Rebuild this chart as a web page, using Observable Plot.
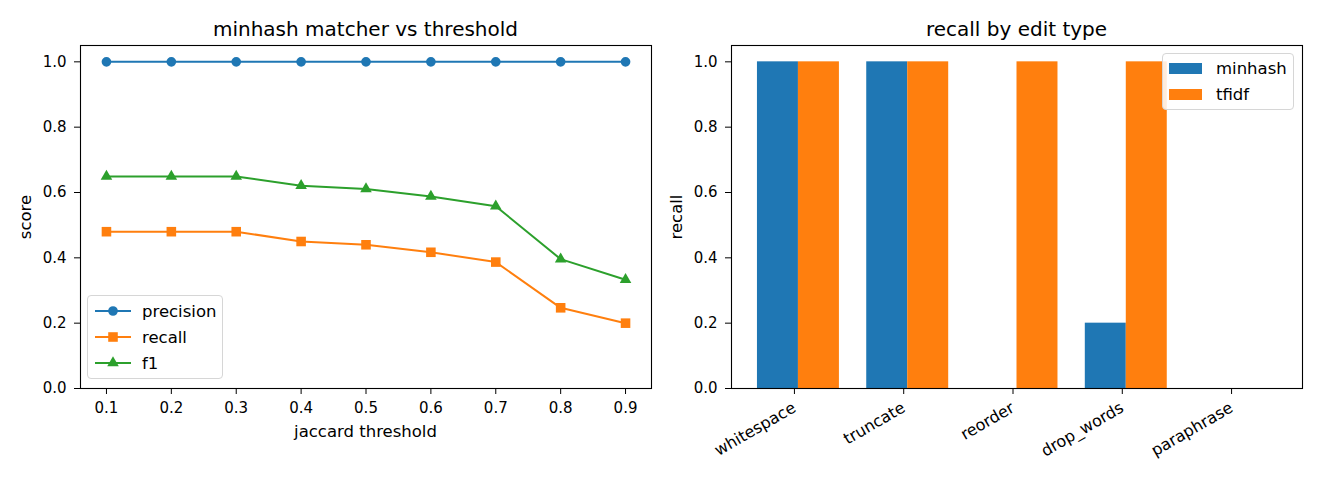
<!DOCTYPE html>
<html>
<head>
<meta charset="utf-8">
<script src="https://cdn.jsdelivr.net/npm/d3@7"></script>
<script src="https://cdn.jsdelivr.net/npm/@observablehq/plot@0.6"></script>
<style>
  body { margin: 0; background: white; }
  #wrap { position: relative; width: 1320px; height: 480px; overflow: hidden; font-family: "DejaVu Sans", sans-serif; color: black; }
  .lab { position: absolute; white-space: nowrap; line-height: 20px; font-size: 16.5px; }
  .title { font-size: 20px; line-height: 24px; }
  .legend { position: absolute; border: 1px solid #d6d6d6; border-radius: 4px; background: rgba(255,255,255,0.85); box-sizing: border-box; font-size: 16.5px; }
  .legrow { position: absolute; display: flex; align-items: center; }
</style>
</head>
<body>
<div id="wrap"></div>
<script>
// ---- data ----
const thresholds = [0.1, 0.2, 0.3, 0.4, 0.5, 0.6, 0.7, 0.8, 0.9];
const precision = [1, 1, 1, 1, 1, 1, 1, 1, 1];
const recall = [0.48, 0.48, 0.48, 0.45, 0.44, 0.417, 0.387, 0.247, 0.2];
const f1 = [0.649, 0.649, 0.649, 0.621, 0.611, 0.588, 0.558, 0.396, 0.333];
const seriesNames = ["precision", "recall", "f1"];
const seriesColors = ["#1f77b4", "#ff7f0e", "#2ca02c"];
const seriesSymbols = ["circle", "square", "triangle"];
const scoreTicks = [0, 0.2, 0.4, 0.6, 0.8, 1.0];

const editTypes = ["whitespace", "truncate", "reorder", "drop_words", "paraphrase"];
const minhashRecall = [1, 1, 0, 0.2, 0];
const tfidfRecall = [1, 1, 1, 1, 0];
const methods = ["minhash", "tfidf"];
const methodColors = ["#1f77b4", "#ff7f0e"];

const wrap = document.getElementById("wrap");
const FONT = "DejaVu Sans";
const TICKFS = "15px";

// ---- left chart ----
const seriesValues = [precision, recall, f1];
const lineRows = [];
seriesNames.forEach((name, s) => thresholds.forEach((t, i) => lineRows.push({series: name, t, v: seriesValues[s][i]})));
const symbolR = {circle: 4.85, square: 5.4, triangle: 4.3};

const left = Plot.plot({
  width: 660, height: 480,
  marginLeft: 80, marginRight: 9, marginTop: 45, marginBottom: 92,
  style: {fontFamily: FONT, fontSize: TICKFS, background: "transparent", overflow: "visible"},
  x: {domain: [0.06, 0.94]},
  y: {domain: [0, 1.05]},
  color: {domain: seriesNames, range: seriesColors},
  symbol: {domain: seriesNames, range: seriesSymbols},
  marks: [
    Plot.axisX({ticks: thresholds, tickFormat: d => d.toFixed(1), tickSize: 6, tickPadding: 8, label: null, fontSize: TICKFS}),
    Plot.axisY({ticks: scoreTicks, tickFormat: d => d.toFixed(1), tickSize: 6, tickPadding: 8, label: null, fontSize: TICKFS}),
    ...seriesNames.map(name => Plot.line(lineRows.filter(d => d.series === name),
      {x: "t", y: "v", stroke: "series", strokeWidth: 2})),
    ...seriesNames.map((name, s) => Plot.dot(lineRows.filter(d => d.series === name),
      {x: "t", y: "v", fill: "series", symbol: "series", r: symbolR[seriesSymbols[s]], stroke: "none"})),
    Plot.frame({stroke: "black", strokeWidth: 1.1})
  ]
});
left.style.position = "absolute"; left.style.left = "0px"; left.style.top = "0px";
wrap.appendChild(left);

// ---- right chart ----
const barW = 0.375;
const barRows = [];
editTypes.forEach((e, i) => {
  barRows.push({i, type: e, method: "minhash", v: minhashRecall[i]});
  barRows.push({i, type: e, method: "tfidf", v: tfidfRecall[i]});
});
const right = Plot.plot({
  width: 660, height: 480,
  marginLeft: 71, marginRight: 18, marginTop: 45, marginBottom: 92,
  style: {fontFamily: FONT, fontSize: TICKFS, background: "transparent", overflow: "visible"},
  x: {domain: [-0.6125, 4.6125]},
  y: {domain: [0, 1.05]},
  color: {domain: methods, range: methodColors},
  marks: [
    Plot.rectY(barRows, {
      x1: d => d.method === "minhash" ? d.i - barW : d.i,
      x2: d => d.method === "minhash" ? d.i : d.i + barW,
      y1: 0, y2: "v", fill: "method", inset: 0
    }),
    Plot.axisX({ticks: editTypes.map((_, i) => i), tickFormat: i => editTypes[i], tickSize: 6, tickPadding: 12,
      tickRotate: -30, textAnchor: "end", lineAnchor: "middle", dx: -4, label: null, fontSize: "16px"}),
    Plot.axisY({ticks: scoreTicks, tickFormat: d => d.toFixed(1), tickSize: 6, tickPadding: 8, label: null, fontSize: TICKFS}),
    Plot.frame({stroke: "black", strokeWidth: 1.1})
  ]
});
right.style.position = "absolute"; right.style.left = "660px"; right.style.top = "0px";
wrap.appendChild(right);

// ---- titles & axis labels ----
function addLabel(text, cx, cy, cls, rotate) {
  const d = document.createElement("div");
  d.className = "lab" + (cls ? " " + cls : "");
  d.textContent = text;
  d.style.left = cx + "px"; d.style.top = cy + "px";
  d.style.transform = "translate(-50%,-50%)" + (rotate ? " rotate(-90deg)" : "");
  wrap.appendChild(d);
}
addLabel("minhash matcher vs threshold", 365.5, 29, "title");
addLabel("recall by edit type", 1016.5, 29, "title");
addLabel("jaccard threshold", 365.5, 432);
addLabel("score", 26, 216.5, null, true);
addLabel("recall", 677, 216.5, null, true);

// ---- legends ----
const SVGNS = "http://www.w3.org/2000/svg";
function legendBox(x, y, w, h) {
  const b = document.createElement("div");
  b.className = "legend";
  Object.assign(b.style, {left: x + "px", top: y + "px", width: w + "px", height: h + "px"});
  wrap.appendChild(b);
  return b;
}
const symMap = {circle: d3.symbolCircle, square: d3.symbolSquare, triangle: d3.symbolTriangle};
const lb = legendBox(87, 295, 136, 84);
seriesNames.forEach((name, s) => {
  const row = document.createElement("div");
  row.className = "legrow";
  Object.assign(row.style, {left: "6px", top: (4 + s * 26) + "px", height: "22px"});
  const svg = document.createElementNS(SVGNS, "svg");
  svg.setAttribute("width", 38); svg.setAttribute("height", 22);
  const ln = document.createElementNS(SVGNS, "line");
  ln.setAttribute("x1", 1); ln.setAttribute("x2", 37); ln.setAttribute("y1", 11); ln.setAttribute("y2", 11);
  ln.setAttribute("stroke", seriesColors[s]); ln.setAttribute("stroke-width", 2);
  svg.appendChild(ln);
  const p = document.createElementNS(SVGNS, "path");
  const r = symbolR[seriesSymbols[s]];
  p.setAttribute("d", d3.symbol(symMap[seriesSymbols[s]], Math.PI * r * r)());
  p.setAttribute("transform", "translate(19,11)");
  p.setAttribute("fill", seriesColors[s]);
  svg.appendChild(p);
  row.appendChild(svg);
  const t = document.createElement("span");
  t.textContent = name; t.style.marginLeft = "10px";
  row.appendChild(t);
  lb.appendChild(row);
});
const rb = legendBox(1162, 53, 132, 57);
methods.forEach((name, s) => {
  const row = document.createElement("div");
  row.className = "legrow";
  Object.assign(row.style, {left: "6px", top: (3 + s * 26) + "px", height: "22px"});
  const sw = document.createElement("div");
  Object.assign(sw.style, {width: "33px", height: "11px", background: methodColors[s]});
  row.appendChild(sw);
  const t = document.createElement("span");
  t.textContent = name; t.style.marginLeft = "14px";
  row.appendChild(t);
  rb.appendChild(row);
});
</script>
</body>
</html>
